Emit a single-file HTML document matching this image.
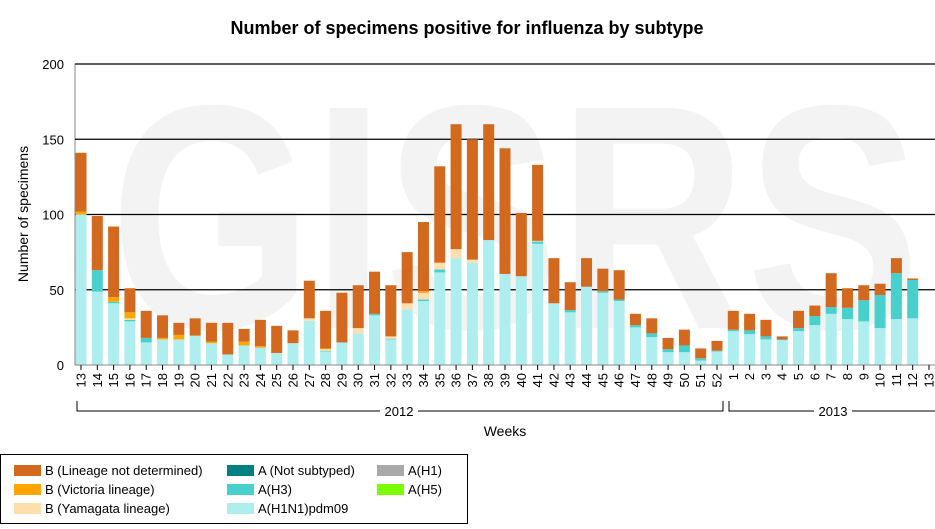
<!DOCTYPE html>
<html><head><meta charset="utf-8"><style>
body{margin:0;background:#fff;}
svg{display:block;font-family:"Liberation Sans",Arial,sans-serif;}
</style></head><body>
<svg id="c" width="935" height="529" xmlns="http://www.w3.org/2000/svg">
<text x="467" y="34" font-size="18" font-weight="bold" text-anchor="middle">Number of specimens positive for influenza by subtype</text>
<text x="110" y="328" font-size="320" font-weight="bold" fill="#f3f3f3" textLength="810" lengthAdjust="spacingAndGlyphs">GISRS</text>
<g id="grid"></g>
<g id="bars"></g>
<g id="ax"></g>
<text transform="translate(28,214) rotate(-90)" font-size="14" text-anchor="middle">Number of specimens</text>
<text x="505" y="436" font-size="14" text-anchor="middle">Weeks</text>
<path d="M77,401V411H723V401M729,401V411H936V401" stroke="#000" fill="none"/>
<rect x="380" y="403" width="38" height="16" fill="#fff"/>
<text x="399" y="416" font-size="13" text-anchor="middle">2012</text>
<rect x="814" y="403" width="38" height="16" fill="#fff"/>
<text x="833" y="416" font-size="13" text-anchor="middle">2013</text>
<rect x="0.5" y="454.5" width="467" height="69" fill="#fff" stroke="#000"/>
<g font-size="13">
<rect x="14" y="465" width="27" height="11" fill="#d2691e"/><text x="45" y="475">B (Lineage not determined)</text>
<rect x="14" y="484" width="27" height="11" fill="#ffa500"/><text x="45" y="494">B (Victoria lineage)</text>
<rect x="14" y="503" width="27" height="11" fill="#ffdead"/><text x="45" y="513">B (Yamagata lineage)</text>
<rect x="227" y="465" width="27" height="11" fill="#008080"/><text x="258" y="475">A (Not subtyped)</text>
<rect x="227" y="484" width="27" height="11" fill="#48d1cc"/><text x="258" y="494">A(H3)</text>
<rect x="227" y="503" width="27" height="11" fill="#afeeee"/><text x="258" y="513">A(H1N1)pdm09</text>
<rect x="377" y="465" width="27" height="11" fill="#a9a9a9"/><text x="408" y="475">A(H1)</text>
<rect x="377" y="484" width="27" height="11" fill="#7cfc00"/><text x="408" y="494">A(H5)</text>
</g>
</svg>
<script>
var NS="http://www.w3.org/2000/svg";
function el(p,t,a,txt){var e=document.createElementNS(NS,t);for(var k in a)e.setAttribute(k,a[k]);if(txt!=null)e.textContent=txt;p.appendChild(e);return e;}
var Y=function(v){return 365-v*1.505;};
var grid=document.getElementById('grid'),bars=document.getElementById('bars'),ax=document.getElementById('ax');
el(grid,'rect',{x:75,y:64,width:861,height:301,fill:'none',stroke:'#888'});
[50,100,150,200].forEach(function(v){el(grid,'line',{x1:75,x2:936,y1:Y(v),y2:Y(v),stroke:'#000','stroke-width':1.2});});
[0,50,100,150,200].forEach(function(v){el(ax,'text',{x:64,y:Y(v)+5,'font-size':13,'text-anchor':'end'},v);});
el(ax,'line',{x1:75,x2:936,y1:365,y2:365,stroke:'#888'});
var d=[[100,100,100,102,141],[48.7,63,63,63,99],[41,42,42,45,92],[29,30,31,35,51],[15,18,18,18,36],[17,17,17,18,33],[17,17,17,20,28],[19.5,19.5,19.5,19.5,31],[14.5,14.5,14.5,15.5,28],[7,7,7,7,28],[13,13,13,15.5,24],[11.5,11.5,11.5,12.5,30],[8,8,8,8,26],[14.5,14.5,14.5,14.5,23],[29.5,29.5,31,31,56],[9,9.5,10.5,11,36],[15,15,15,15,48],[21,21,24.5,24.5,53],[33,34,34,34,62],[17,17.5,19,19,53],[37,37,41,41,75],[42.5,43.5,48,49,95],[61.5,63.5,68,68,132],[71,71,77,77,160],[68,68,70,70,150],[83,83,83,83,160],[60.5,60.5,60.5,60.5,144],[59,59,59,59,101],[80.5,82,82.5,82.5,133],[41,41,41,41,71],[35,36.5,36.5,36.5,55],[52,52,52,52,71],[48,49,49,49,64],[42.5,43.5,43.5,43.5,63],[25,26.5,26.5,26.5,34],[18.5,21,21,21,31],[8.5,10.5,10.5,10.5,18],[8.5,13,13,13,23.5],[3,4.5,4.5,4.5,11],[9,9.5,9.5,9.5,16],[22.5,23.5,23.5,23.5,36],[20.5,23,23,23,34],[17,19,19,19,30],[16.5,17,17,17,19],[22.5,24.5,24.5,24.5,36],[26.5,32.5,32.5,32.5,39.5],[34,38.5,38.5,38.5,61],[30.5,38,38,38,51],[29,43,43,43,53],[24.5,46.5,46.5,46.5,54],[30.5,61,61,61,71],[31,56.5,56.5,56.5,57.5],[0,0,0,0,0]];
var cols=['#afeeee','#48d1cc','#ffdead','#ffa500','#d2691e'];
var labs=[];for(var w=13;w<=52;w++)labs.push(w);for(var w=1;w<=13;w++)labs.push(w);
var step=(929-81)/52;
d.forEach(function(r,i){var cx=81+i*step;var prev=0;
 for(var j=0;j<5;j++){var v=r[j];if(v>prev){el(bars,'rect',{x:cx-5.5,width:11,y:Y(v),height:Y(prev)-Y(v),fill:cols[j]});}prev=Math.max(prev,v);}
 el(ax,'line',{x1:cx,x2:cx,y1:365,y2:370,stroke:'#000'});
 el(ax,'text',{transform:'translate('+(cx+4.5)+',373) rotate(-90)','font-size':13,'text-anchor':'end'},labs[i]);
});
</script>
</body></html>
